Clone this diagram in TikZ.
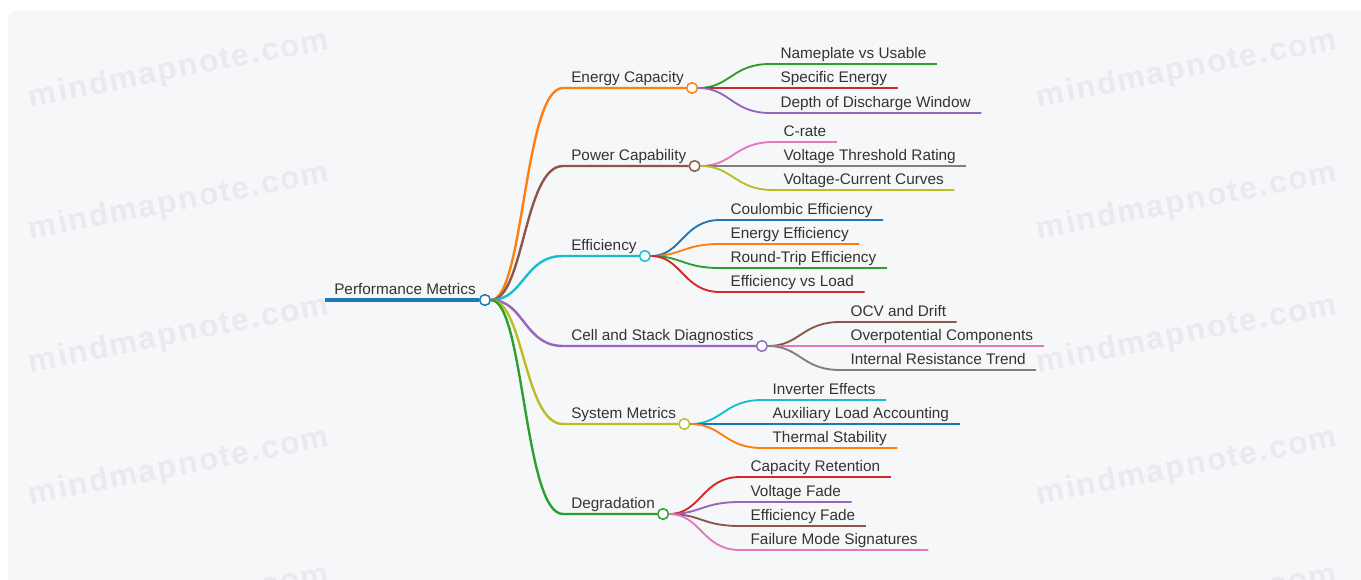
\documentclass[tikz,border=0pt]{standalone}
\usepackage{fontspec}
\setmainfont{Liberation Sans}
\newfontfamily\wmfont[LetterSpace=6]{Liberation Sans Bold}
\usetikzlibrary{positioning}
\definecolor{mmblue}{HTML}{1F77B4}
\definecolor{mmorange}{HTML}{FF7F0E}
\definecolor{mmgreen}{HTML}{2CA02C}
\definecolor{mmred}{HTML}{D62728}
\definecolor{mmpurple}{HTML}{9467BD}
\definecolor{mmbrown}{HTML}{8C564B}
\definecolor{mmpink}{HTML}{E377C2}
\definecolor{mmgray}{HTML}{7F7F7F}
\definecolor{mmolive}{HTML}{BCBD22}
\definecolor{mmcyan}{HTML}{17BECF}
\definecolor{ink}{HTML}{333333}
\definecolor{panel}{HTML}{F6F7F9}
\definecolor{wmgray}{HTML}{E9EAED}

\begin{document}
\begin{tikzpicture}[
  x=0.75pt,y=-0.75pt,
  txt/.style={anchor=south west,inner ysep=3.75pt,text depth=0pt,text=ink,font=\fontsize{11.5}{13}\selectfont},
  root/.style={txt,inner xsep=6.75pt},
  topic/.style={txt,inner xsep=6pt},
  leaf/.style={txt,inner xsep=7.75pt},
  hub/.style={circle,draw=#1,fill=white,line width=1.1pt,inner sep=0pt,minimum size=8pt},
  branch/.style={draw=#1,line width=1.8pt},
  twig/.style={draw=#1,line width=1.4pt},
  wmark/.style={text=wmgray,rotate=11,font=\wmfont\fontsize{23.5}{24}\selectfont}
]
\useasboundingbox (0,0) rectangle (1361,579);
\fill[panel,rounded corners=8pt] (8,10) rectangle (1380,600);
% watermark
\begin{scope}
\clip (0,0) rectangle (1361,579);
\foreach \wy [count=\i] in {70,202.5,335,467.5,604} {
  \node[wmark] (wl\i) at (179,\wy) {mindmapnote.com};
  \node[wmark] (wr\i) at (1187,\wy) {mindmapnote.com};
}
\end{scope}

% root
\node[root] (perf) at (325,300) {Performance Metrics};
\node[hub=mmblue] (perf-dot) at (perf.south east) {};
\draw[mmblue,line width=3pt] (perf.south west) -- (perf-dot);

% main branches
\node[topic] (cap) at (563,88) {Energy Capacity};
\node[topic] (pow) at (563,166) {Power Capability};
\node[topic] (eff) at (563,256) {Efficiency};
\node[topic] (diag) at (563,346) {Cell and Stack Diagnostics};
\node[topic] (sys) at (563,424) {System Metrics};
\node[topic] (deg) at (563,514) {Degradation};
\node[hub=mmorange] (cap-dot) at (cap.south east) {};
\node[hub=mmbrown] (pow-dot) at (pow.south east) {};
\node[hub=mmcyan] (eff-dot) at (eff.south east) {};
\node[hub=mmpurple] (diag-dot) at (diag.south east) {};
\node[hub=mmolive] (sys-dot) at (sys.south east) {};
\node[hub=mmgreen] (deg-dot) at (deg.south east) {};
\draw[branch=mmorange] (perf-dot) .. controls +(39,0) and +(-39,0) .. (cap.south west) -- (cap-dot);
\draw[branch=mmbrown] (perf-dot) .. controls +(39,0) and +(-39,0) .. (pow.south west) -- (pow-dot);
\draw[branch=mmcyan] (perf-dot) .. controls +(39,0) and +(-39,0) .. (eff.south west) -- (eff-dot);
\draw[branch=mmpurple] (perf-dot) .. controls +(39,0) and +(-39,0) .. (diag.south west) -- (diag-dot);
\draw[branch=mmolive] (perf-dot) .. controls +(39,0) and +(-39,0) .. (sys.south west) -- (sys-dot);
\draw[branch=mmgreen] (perf-dot) .. controls +(39,0) and +(-39,0) .. (deg.south west) -- (deg-dot);

% energy capacity
\node[leaf] (cap1) at (770,64) {Nameplate vs Usable};
\node[leaf] (cap2) at (770,88) {Specific Energy};
\node[leaf] (cap3) at (770,113) {Depth of Discharge Window};
\draw[twig=mmgreen] (cap-dot) .. controls +(38,0) and +(-38,0) .. (cap1.south west) -- (cap1.south east);
\draw[twig=mmred] (cap-dot) .. controls +(38,0) and +(-38,0) .. (cap2.south west) -- (cap2.south east);
\draw[twig=mmpurple] (cap-dot) .. controls +(38,0) and +(-38,0) .. (cap3.south west) -- (cap3.south east);

% power capability
\node[leaf] (pow1) at (773,142) {C-rate};
\node[leaf] (pow2) at (773,166) {Voltage Threshold Rating};
\node[leaf] (pow3) at (773,190) {Voltage-Current Curves};
\draw[twig=mmpink] (pow-dot) .. controls +(38,0) and +(-38,0) .. (pow1.south west) -- (pow1.south east);
\draw[twig=mmgray] (pow-dot) .. controls +(38,0) and +(-38,0) .. (pow2.south west) -- (pow2.south east);
\draw[twig=mmolive] (pow-dot) .. controls +(38,0) and +(-38,0) .. (pow3.south west) -- (pow3.south east);

% efficiency
\node[leaf] (eff1) at (720,220) {Coulombic Efficiency};
\node[leaf] (eff2) at (720,244) {Energy Efficiency};
\node[leaf] (eff3) at (720,268) {Round-Trip Efficiency};
\node[leaf] (eff4) at (720,292) {Efficiency vs Load};
\draw[twig=mmblue] (eff-dot) .. controls +(37,0) and +(-37,0) .. (eff1.south west) -- (eff1.south east);
\draw[twig=mmorange] (eff-dot) .. controls +(37,0) and +(-37,0) .. (eff2.south west) -- (eff2.south east);
\draw[twig=mmgreen] (eff-dot) .. controls +(37,0) and +(-37,0) .. (eff3.south west) -- (eff3.south east);
\draw[twig=mmred] (eff-dot) .. controls +(37,0) and +(-37,0) .. (eff4.south west) -- (eff4.south east);

% diagnostics
\node[leaf] (diag1) at (840,322) {OCV and Drift};
\node[leaf] (diag2) at (840,346) {Overpotential Components};
\node[leaf] (diag3) at (840,370) {Internal Resistance Trend};
\draw[twig=mmbrown] (diag-dot) .. controls +(38,0) and +(-38,0) .. (diag1.south west) -- (diag1.south east);
\draw[twig=mmpink] (diag-dot) .. controls +(38,0) and +(-38,0) .. (diag2.south west) -- (diag2.south east);
\draw[twig=mmgray] (diag-dot) .. controls +(38,0) and +(-38,0) .. (diag3.south west) -- (diag3.south east);

% system metrics
\node[leaf] (sys1) at (762,400) {Inverter Effects};
\node[leaf] (sys2) at (762,424) {Auxiliary Load Accounting};
\node[leaf] (sys3) at (762,448) {Thermal Stability};
\draw[twig=mmcyan] (sys-dot) .. controls +(38,0) and +(-38,0) .. (sys1.south west) -- (sys1.south east);
\draw[twig=mmblue] (sys-dot) .. controls +(38,0) and +(-38,0) .. (sys2.south west) -- (sys2.south east);
\draw[twig=mmorange] (sys-dot) .. controls +(38,0) and +(-38,0) .. (sys3.south west) -- (sys3.south east);

% degradation
\node[leaf] (deg1) at (740,477) {Capacity Retention};
\node[leaf] (deg2) at (740,502) {Voltage Fade};
\node[leaf] (deg3) at (740,526) {Efficiency Fade};
\node[leaf] (deg4) at (740,550) {Failure Mode Signatures};
\draw[twig=mmred] (deg-dot) .. controls +(38,0) and +(-38,0) .. (deg1.south west) -- (deg1.south east);
\draw[twig=mmpurple] (deg-dot) .. controls +(38,0) and +(-38,0) .. (deg2.south west) -- (deg2.south east);
\draw[twig=mmbrown] (deg-dot) .. controls +(38,0) and +(-38,0) .. (deg3.south west) -- (deg3.south east);
\draw[twig=mmpink] (deg-dot) .. controls +(38,0) and +(-38,0) .. (deg4.south west) -- (deg4.south east);
\end{tikzpicture}
\end{document}
